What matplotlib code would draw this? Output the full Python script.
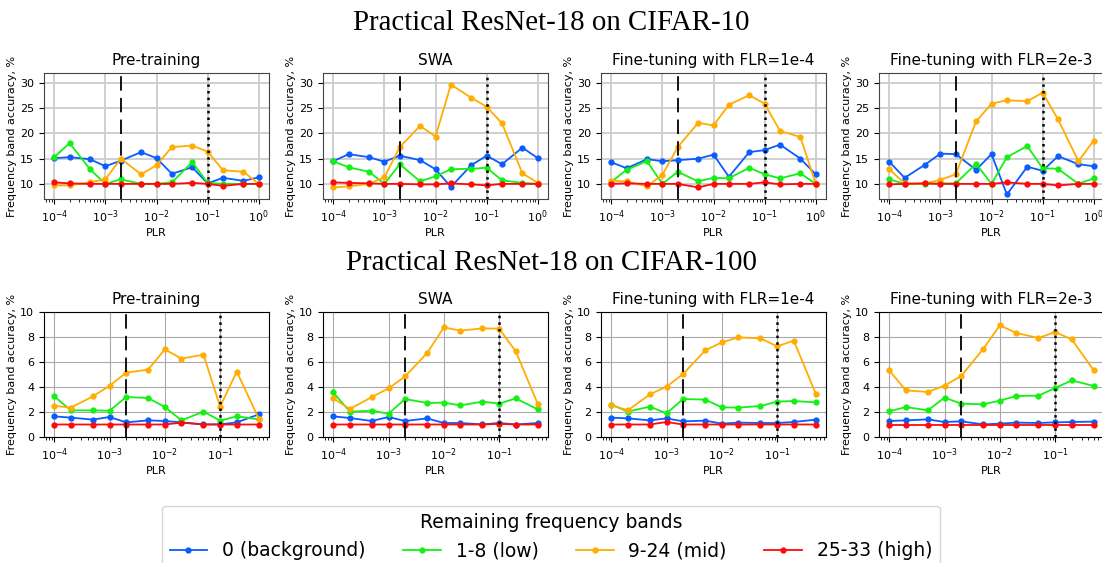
import matplotlib
matplotlib.use("Agg")
import matplotlib.pyplot as plt

plr10 = [1e-4, 2e-4, 5e-4, 1e-3, 2e-3, 5e-3, 1e-2, 2e-2, 5e-2, 1e-1, 2e-1, 5e-1, 1.0]
plr100 = [1e-4, 2e-4, 5e-4, 1e-3, 2e-3, 5e-3, 1e-2, 2e-2, 5e-2, 1e-1, 2e-1, 5e-1]

panel_titles = ["Pre-training", "SWA", "Fine-tuning with FLR=1e-4", "Fine-tuning with FLR=2e-3"]
row_titles = ["Practical ResNet-18 on CIFAR-10", "Practical ResNet-18 on CIFAR-100"]
band_labels = ["0 (background)", "1-8 (low)", "9-24 (mid)", "25-33 (high)"]
legend_title = "Remaining frequency bands"

# CIFAR-10
c10_pre_bg   = [15.1, 15.3, 14.9, 13.5, 14.6, 16.3, 15.1, 12.0, 13.3, 10.1, 11.2, 10.6, 11.3]
c10_pre_low  = [15.3, 18.1, 12.9, 10.0, 10.9, 10.0, 10.0, 10.3, 14.3, 10.2, 10.0, 10.0, 10.0]
c10_pre_mid  = [9.7, 9.7, 10.3, 10.9, 15.0, 11.9, 13.7, 17.3, 17.6, 16.4, 12.7, 12.4, 10.0]
c10_pre_high = [10.3, 10.1, 10.0, 10.0, 10.0, 10.0, 10.0, 10.0, 10.2, 10.0, 9.6, 10.0, 10.0]

c10_swa_bg   = [14.5, 15.9, 15.3, 14.4, 15.6, 14.7, 12.9, 9.4, 13.7, 15.6, 13.9, 17.2, 15.1]
c10_swa_low  = [14.5, 13.3, 12.4, 10.0, 13.9, 10.5, 11.5, 12.9, 13.0, 13.2, 10.7, 10.2, 10.0]
c10_swa_mid  = [9.3, 9.5, 10.0, 11.3, 17.3, 21.5, 19.4, 29.7, 27.1, 25.3, 22.0, 12.1, 10.2]
c10_swa_high = [10.3, 10.2, 10.1, 10.0, 10.0, 9.9, 9.9, 10.1, 9.9, 9.7, 10.0, 10.0, 10.0]

c10_ft1_bg   = [14.3, 13.1, 14.9, 14.5, 14.7, 15.0, 15.8, 11.4, 16.3, 16.7, 17.8, 15.0, 11.9]
c10_ft1_low  = [10.4, 12.8, 14.5, 10.0, 12.4, 10.5, 11.2, 11.1, 13.2, 11.9, 11.1, 12.1, 10.0]
c10_ft1_mid  = [10.6, 10.5, 9.5, 11.8, 17.3, 22.1, 21.6, 25.7, 27.6, 25.9, 20.5, 19.3, 10.0]
c10_ft1_high = [10.0, 10.1, 10.0, 10.0, 10.0, 9.3, 10.0, 10.0, 10.0, 10.3, 9.9, 10.0, 10.0]

c10_ft2_bg   = [14.4, 11.2, 13.8, 16.0, 15.9, 12.8, 15.9, 7.9, 13.4, 12.6, 15.5, 13.9, 13.5]
c10_ft2_low  = [10.9, 10.0, 10.0, 10.1, 10.1, 14.0, 10.0, 15.3, 17.5, 13.1, 13.0, 10.0, 11.1]
c10_ft2_mid  = [12.9, 10.1, 10.1, 10.8, 11.9, 22.4, 25.9, 26.6, 26.4, 28.1, 22.8, 14.5, 18.6]
c10_ft2_high = [9.9, 10.0, 10.1, 10.0, 10.0, 10.0, 10.0, 10.3, 10.0, 10.0, 9.7, 10.0, 10.0]

# CIFAR-100
c100_pre_bg   = [1.65, 1.55, 1.39, 1.60, 1.17, 1.33, 1.28, 1.17, 1.01, 1.01, 1.17, 1.81]
c100_pre_low  = [3.25, 2.13, 2.13, 2.10, 3.20, 3.12, 2.40, 1.33, 2.03, 1.31, 1.65, 1.41]
c100_pre_mid  = [2.50, 2.35, 3.25, 4.10, 5.15, 5.39, 7.01, 6.27, 6.59, 2.43, 5.23, 1.47]
c100_pre_high = [1.0, 1.0, 1.0, 1.0, 1.0, 1.0, 1.0, 1.15, 1.0, 1.0, 1.0, 1.0]

c100_swa_bg   = [1.65, 1.52, 1.28, 1.60, 1.28, 1.49, 1.12, 1.12, 1.01, 1.12, 1.00, 1.12]
c100_swa_low  = [3.57, 2.03, 2.10, 1.87, 3.04, 2.72, 2.75, 2.53, 2.83, 2.67, 3.09, 2.21]
c100_swa_mid  = [3.09, 2.24, 3.20, 3.89, 4.85, 6.72, 8.77, 8.51, 8.69, 8.67, 6.85, 2.64]
c100_swa_high = [1.0, 1.0, 1.0, 1.0, 1.0, 1.0, 1.0, 1.0, 1.0, 1.05, 1.0, 1.0]

c100_ft1_bg   = [1.55, 1.49, 1.33, 1.49, 1.25, 1.31, 1.07, 1.15, 1.12, 1.12, 1.20, 1.39]
c100_ft1_low  = [2.59, 2.03, 2.43, 1.89, 3.04, 2.99, 2.37, 2.35, 2.48, 2.83, 2.88, 2.77]
c100_ft1_mid  = [2.56, 2.13, 3.41, 4.03, 5.04, 6.93, 7.57, 7.97, 7.89, 7.25, 7.71, 3.47]
c100_ft1_high = [1.0, 1.0, 1.0, 1.2, 1.0, 1.0, 1.0, 1.0, 1.0, 1.0, 1.0, 1.0]

c100_ft2_bg   = [1.28, 1.33, 1.41, 1.20, 1.25, 1.01, 1.07, 1.15, 1.12, 1.17, 1.20, 1.23]
c100_ft2_low  = [2.05, 2.40, 2.13, 3.15, 2.67, 2.61, 2.91, 3.28, 3.31, 3.92, 4.53, 4.08]
c100_ft2_mid  = [5.33, 3.73, 3.60, 4.11, 4.88, 7.04, 8.93, 8.32, 7.92, 8.40, 7.81, 5.33]
c100_ft2_high = [1.0, 1.0, 1.0, 1.0, 1.0, 1.0, 1.0, 1.0, 1.0, 1.0, 1.0, 1.0]

colors = ["#0a5cff", "#14f014", "#ffad00", "#ff0a0a"]

rows = [
    (plr10, [[c10_pre_bg, c10_pre_low, c10_pre_mid, c10_pre_high],
             [c10_swa_bg, c10_swa_low, c10_swa_mid, c10_swa_high],
             [c10_ft1_bg, c10_ft1_low, c10_ft1_mid, c10_ft1_high],
             [c10_ft2_bg, c10_ft2_low, c10_ft2_mid, c10_ft2_high]]),
    (plr100, [[c100_pre_bg, c100_pre_low, c100_pre_mid, c100_pre_high],
              [c100_swa_bg, c100_swa_low, c100_swa_mid, c100_swa_high],
              [c100_ft1_bg, c100_ft1_low, c100_ft1_mid, c100_ft1_high],
              [c100_ft2_bg, c100_ft2_low, c100_ft2_mid, c100_ft2_high]]),
]

W, H = 1102, 563
fig = plt.figure(figsize=(W / 100, H / 100), dpi=100)

lefts = [44, 323, 601, 879]
axw = 225
row_boxes = [(73, 199), (312, 437)]
ylims = [(7, 32), (0, 10)]
yticks = [[10, 15, 20, 25, 30], [0, 2, 4, 6, 8, 10]]

handles = None
for r, (xs, panels) in enumerate(rows):
    top, bot = row_boxes[r]
    for c in range(4):
        ax = fig.add_axes([lefts[c] / W, 1 - bot / H, axw / W, (bot - top) / H])
        hs = []
        for k, series in enumerate(panels[c]):
            h, = ax.plot(xs, series, color=colors[k], marker="o", markersize=3.5,
                         linewidth=1.3, label=band_labels[k])
            hs.append(h)
        handles = hs
        ax.set_xscale("log")
        ax.set_ylim(*ylims[r])
        ax.set_yticks(yticks[r])
        ax.axvline(2e-3, color="black", linestyle=(0, (8, 4)), linewidth=1.3)
        ax.axvline(1e-1, color="black", linestyle=":", linewidth=1.8)
        if r == 0:
            ax.grid(True, color="#cccccc", linewidth=1.3)
            for s in ax.spines.values():
                s.set_color("#444444")
        else:
            ax.grid(True, color="#a8a8a8", linewidth=0.8)
        ax.set_axisbelow(True)
        ax.tick_params(labelsize=8)
        ax.set_title(panel_titles[c], fontsize=11)
        ax.set_xlabel("PLR", fontsize=8, labelpad=2)
        ax.set_ylabel("Frequency band accuracy, %", fontsize=8, labelpad=2)

fig.text(0.5, 1 - 23 / H, row_titles[0], ha="center", va="center",
         fontsize=20.8, family="Liberation Serif")
fig.text(0.5, 1 - 263 / H, row_titles[1], ha="center", va="center",
         fontsize=20.8, family="Liberation Serif")

fig.legend(handles=handles, labels=band_labels, loc="upper center",
           bbox_to_anchor=(0.5, 1 - 500 / H), ncol=4, fontsize=13.5,
           title=legend_title, title_fontsize=13.5, frameon=True,
           handlelength=2.0, columnspacing=2.0, borderaxespad=0.3)

fig.savefig("out.png", dpi=100)
